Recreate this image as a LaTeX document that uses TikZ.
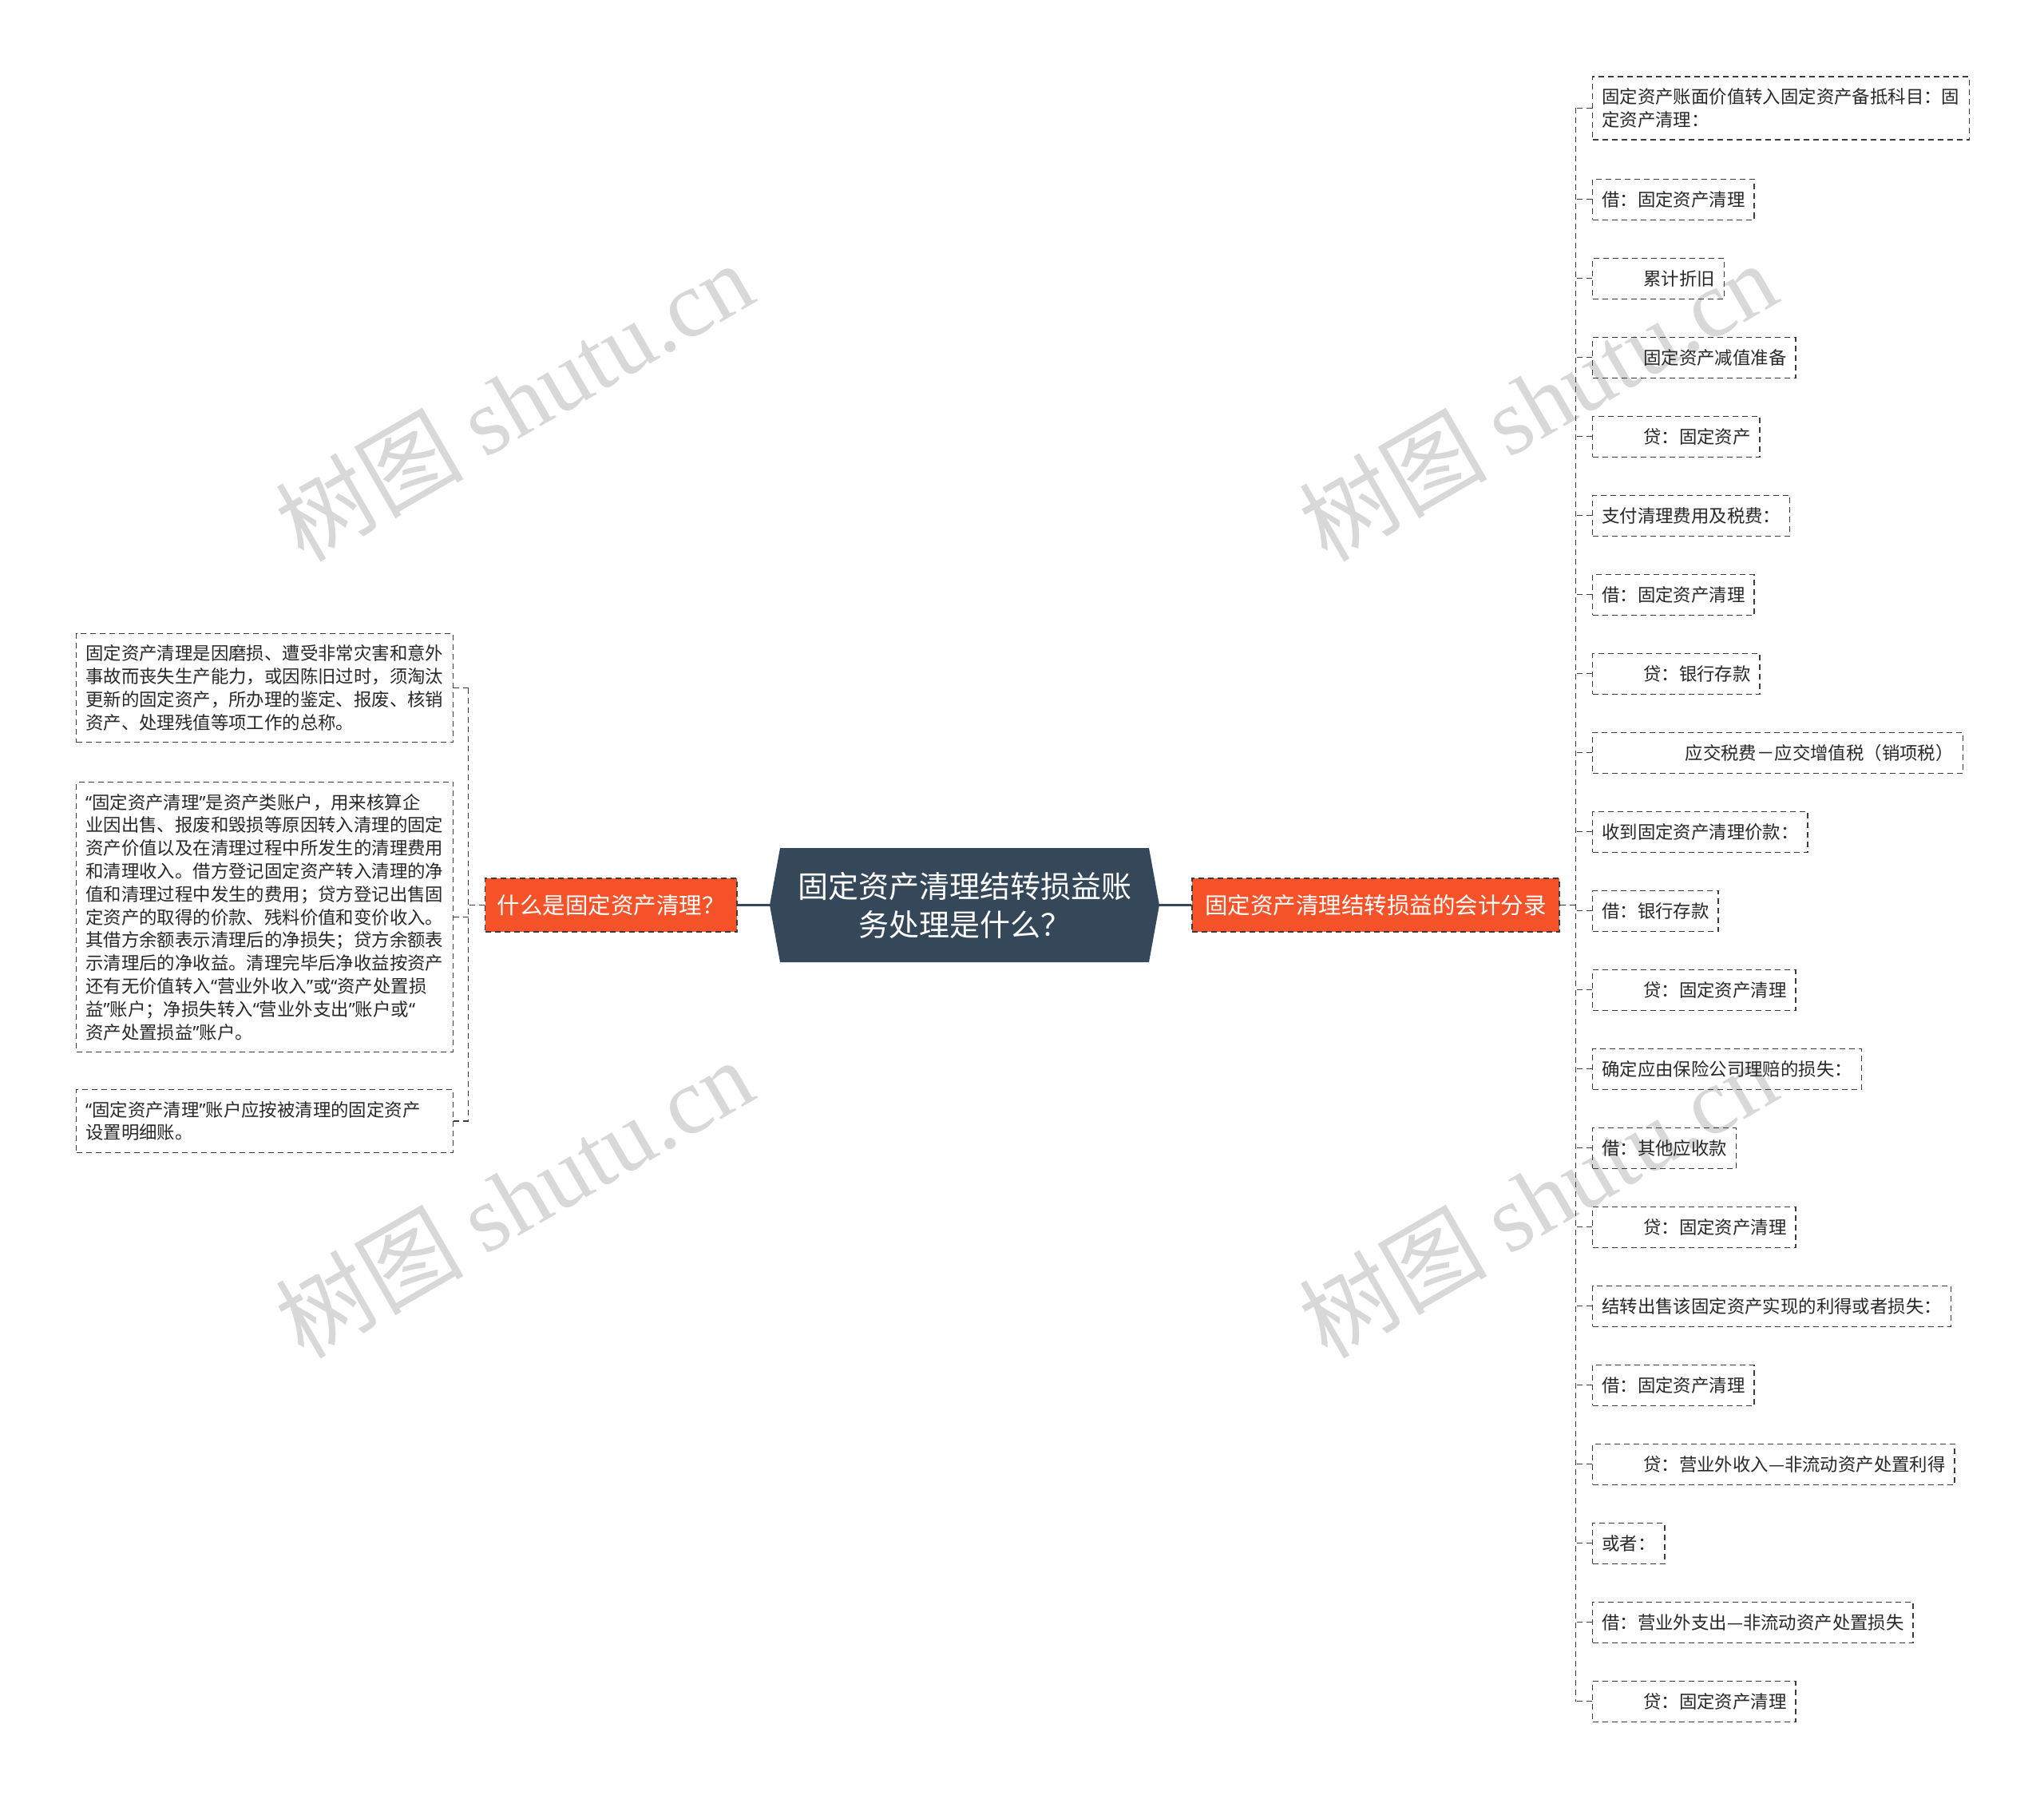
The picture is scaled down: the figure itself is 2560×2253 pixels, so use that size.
\documentclass[tikz,border=0pt]{standalone}
\usepackage{fontspec}
\setmainfont{Noto Sans CJK SC}
\newfontfamily\wmlatin{Liberation Serif}
\newfontfamily\myqfont{Noto Sans}
\newcommand\myqo{{\myqfont “}}
\newcommand\myqc{{\myqfont ”}}
\usetikzlibrary{calc}
\definecolor{rootc}{RGB}{53,72,90}
\definecolor{orng}{RGB}{246,82,42}
\definecolor{bord}{RGB}{60,60,60}
\definecolor{txt}{RGB}{40,40,40}
\definecolor{wmc}{RGB}{216,216,216}
\tikzset{
  leaf/.style={draw=bord, line width=1.4pt, dash pattern=on 7pt off 5pt, anchor=west,
    inner xsep=11.5pt, inner ysep=0pt, minimum height=51pt, text height=19.7pt, text depth=2.7pt,
    font=\fontsize{22.4}{29}\selectfont, text=txt},
  leafm/.style={draw=bord, line width=1.4pt, dash pattern=on 7pt off 5pt, anchor=west,
    inner xsep=11.5pt, inner ysep=14.5pt, text width=449pt, align=left,
    font=\fontsize{22.4}{28.8}\selectfont, text=txt},
  branch/.style={fill=orng, draw=bord, line width=1.4pt, dash pattern=on 7pt off 5pt,
    minimum height=67pt, inner sep=0pt, text=white, font=\fontsize{28.5}{34}\selectfont},
  roottext/.style={minimum width=488pt, minimum height=143pt, inner sep=0pt, align=center,
    text=white, font=\fontsize{38}{48}\selectfont},
  rootline/.style={draw=rootc, line width=2.2pt},
  conn/.style={draw=bord, line width=1.3pt, dash pattern=on 7pt off 5pt},
  wmark/.style={text=wmc, anchor=base, rotate=30, inner sep=0pt, font=\fontsize{118}{118}\selectfont}
}
\begin{document}
\begin{tikzpicture}[x=1pt,y=-1pt]
\useasboundingbox (0,0) rectangle (2560,2253);
\fill[white] (0,0) rectangle (2560,2253);

% watermarks
\node[wmark] (wm1) at (666,541) {树图 {\wmlatin shutu.cn}};
\node[wmark] (wm2) at (1948,541) {树图 {\wmlatin shutu.cn}};
\node[wmark] (wm3) at (666,1539) {树图 {\wmlatin shutu.cn}};
\node[wmark] (wm4) at (1948,1539) {树图 {\wmlatin shutu.cn}};

% root
\fill[rootc] (977,1062) -- (1439,1062) -- (1452,1133.5) -- (1439,1205) -- (977,1205) -- (964,1133.5) -- cycle;
\node[roottext] (root) at (1208,1133.5) {固定资产清理结转损益账\\务处理是什么？};

% branches
\node[branch, minimum width=315.5pt] (lq) at (765.25,1133.5) {什么是固定资产清理？};
\node[branch, minimum width=460pt] (rq) at (1723,1133.5) {固定资产清理结转损益的会计分录};

% left leaves
\node[leafm] (l1) at (95,861.5) {固定资产清理是因磨损、遭受非常灾害和意外\\事故而丧失生产能力，或因陈旧过时，须淘汰\\更新的固定资产，所办理的鉴定、报废、核销\\资产、处理残值等项工作的总称。};
\node[leafm] (l2) at (95,1148.5) {\myqo 固定资产清理\myqc 是资产类账户，用来核算企\\业因出售、报废和毁损等原因转入清理的固定\\资产价值以及在清理过程中所发生的清理费用\\和清理收入。借方登记固定资产转入清理的净\\值和清理过程中发生的费用；贷方登记出售固\\定资产的取得的价款、残料价值和变价收入。\\其借方余额表示清理后的净损失；贷方余额表\\示清理后的净收益。清理完毕后净收益按资产\\还有无价值转入\myqo 营业外收入\myqc 或\myqo 资产处置损\\益\myqc 账户；净损失转入\myqo 营业外支出\myqc 账户或\myqo\\资产处置损益\myqc 账户。};
\node[leafm] (l3) at (95,1404) {\myqo 固定资产清理\myqc 账户应按被清理的固定资产\\设置明细账。};

% right leaves
\node[leafm] (r1) at (1994,135.5) {固定资产账面价值转入固定资产备抵科目：固\\定资产清理：};
\node[leaf] (r2) at (1994,249.8) {借：固定资产清理};
\node[leaf] (r3) at (1994,348.8) {\hspace*{52pt}累计折旧};
\node[leaf] (r4) at (1994,447.8) {\hspace*{52pt}固定资产减值准备};
\node[leaf] (r5) at (1994,546.8) {\hspace*{52pt}贷：固定资产};
\node[leaf] (r6) at (1994,645.8) {支付清理费用及税费：};
\node[leaf] (r7) at (1994,744.8) {借：固定资产清理};
\node[leaf] (r8) at (1994,843.8) {\hspace*{52pt}贷：银行存款};
\node[leaf] (r9) at (1994,942.8) {\hspace*{104.5pt}应交税费－应交增值税（销项税）};
\node[leaf] (r10) at (1994,1041.8) {收到固定资产清理价款：};
\node[leaf] (r11) at (1994,1140.8) {借：银行存款};
\node[leaf] (r12) at (1994,1239.8) {\hspace*{52pt}贷：固定资产清理};
\node[leaf] (r13) at (1994,1338.8) {确定应由保险公司理赔的损失：};
\node[leaf] (r14) at (1994,1437.8) {借：其他应收款};
\node[leaf] (r15) at (1994,1536.8) {\hspace*{52pt}贷：固定资产清理};
\node[leaf] (r16) at (1994,1635.8) {结转出售该固定资产实现的利得或者损失：};
\node[leaf] (r17) at (1994,1734.8) {借：固定资产清理};
\node[leaf] (r18) at (1994,1833.8) {\hspace*{52pt}贷：营业外收入—非流动资产处置利得};
\node[leaf] (r19) at (1994,1932.8) {或者：};
\node[leaf] (r20) at (1994,2031.8) {借：营业外支出—非流动资产处置损失};
\node[leaf] (r21) at (1994,2130.8) {\hspace*{52pt}贷：固定资产清理};

% spines
\coordinate (ls) at (586.5,0);
\coordinate (rs) at (1973.5,0);

% root connectors
\draw[rootline] (root.west) -- (lq.east);
\draw[rootline] (root.east) -- (rq.west);

% left connectors
\draw[conn] (lq.west) -- (lq.west -| ls);
\draw[conn] (l1.east -| ls) -- (l3.east -| ls);
\foreach \i in {l1,l2,l3} \draw[conn] (\i.east) -- (\i.east -| ls);

% right connectors
\draw[conn] (rq.east) -- (rq.east -| rs);
\draw[conn] (r1.west -| rs) -- (r21.west -| rs);
\foreach \i in {1,...,21} \draw[conn] (r\i.west) -- (r\i.west -| rs);
\end{tikzpicture}
\end{document}
